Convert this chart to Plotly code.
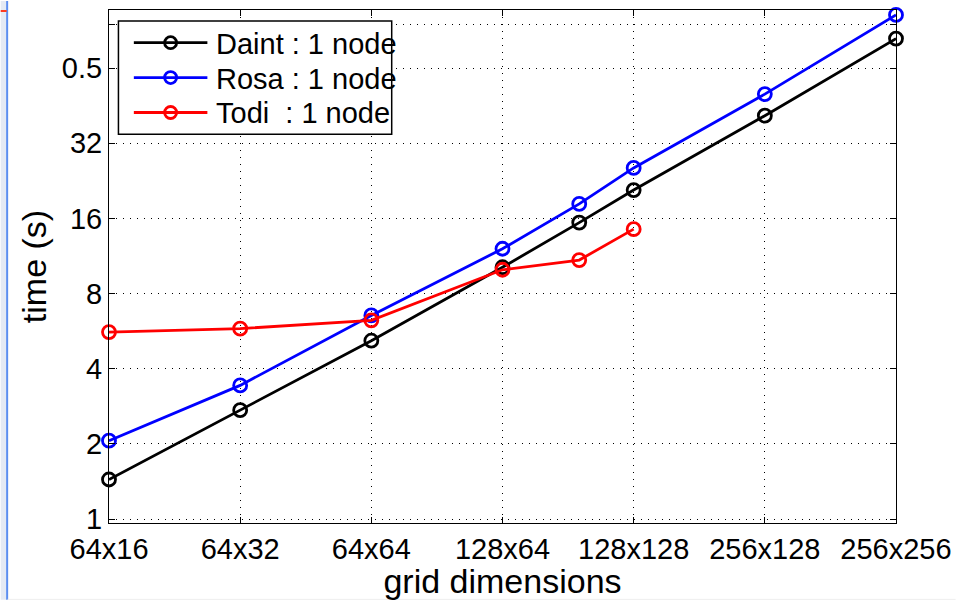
import math
import plotly.graph_objects as go

# grid sizes (nx, ny) and run times in seconds
grids = [(64, 16), (64, 32), (64, 64), (128, 64), (128, 96), (128, 128), (256, 128), (256, 256)]
daint_time = [1.44, 2.73, 5.18, 10.2, 15.4, 20.8, 41.3, 84.1]
rosa_time = [2.06, 3.43, 6.54, 12.1, 18.3, 25.5, 50.4, 104.6]
todi_time = [5.61, 5.79, 6.25, 9.97, 10.9, 14.5]

tick_grids = [(64, 16), (64, 32), (64, 64), (128, 64), (128, 128), (256, 128), (256, 256)]
y_tickvals = [1, 2, 4, 8, 16, 32, 64, 96]
y_ticktext = ["1", "2", "4", "8", "16", "32", "0.5", ""]

series_names = ["Daint : 1 node", "Rosa : 1 node", "Todi  : 1 node"]
series_values = [daint_time, rosa_time, todi_time]
series_colors = ["#000000", "#0000ff", "#ff0000"]

LW = 2.8

def cells(g):
    return math.log2(g[0] * g[1])

x_all = [cells(g) for g in grids]

fig = go.Figure()
for name, vals, color in zip(series_names, series_values, series_colors):
    fig.add_trace(go.Scatter(
        x=x_all[:len(vals)], y=vals, name=name, mode="lines+markers",
        line=dict(color=color, width=LW),
        marker=dict(symbol="circle-open", size=13, color=color,
                    line=dict(width=LW, color=color)),
        cliponaxis=False, showlegend=False,
    ))

W, H = 961, 600
L, R, T, B = 109, 60, 9, 77
pw, ph = W - L - R, H - T - B

def px_x(x):
    return (x - L) / pw

def px_y(y):
    return (H - B - y) / ph

axis_common = dict(
    showline=True, linecolor="black", linewidth=1, mirror="ticks",
    ticks="inside", ticklen=6, tickcolor="black", tickwidth=1,
    showgrid=True, gridcolor="black", gridwidth=1.2, griddash="1px,6px",
    zeroline=False, tickfont=dict(size=29, color="black"),
)

# legend box drawn in pixel space at the upper left of the axes
shapes = [
    dict(type="rect", xref="paper", yref="paper", x0=px_x(0), x1=px_x(6),
         y0=px_y(600), y1=px_y(0), fillcolor="#e4eaf4", line=dict(width=0), layer="below"),
    dict(type="line", xref="paper", yref="paper", x0=px_x(6.5), x1=px_x(6.5),
         y0=px_y(600), y1=px_y(0), line=dict(color="#5b8ef0", width=2)),
    dict(type="line", xref="paper", yref="paper", x0=px_x(0), x1=px_x(6),
         y0=px_y(10), y1=px_y(10), line=dict(color="#ff3b1f", width=2)),
    dict(type="line", xref="paper", yref="paper", x0=px_x(7), x1=px_x(961),
         y0=px_y(599.5), y1=px_y(599.5), line=dict(color="#eeeeee", width=1)),
    dict(type="rect", xref="paper", yref="paper", x0=px_x(118.5), x1=px_x(393.5),
         y0=px_y(133.5), y1=px_y(20), fillcolor="white", line=dict(color="black", width=1.5)),
]
annotations = []
row_y = [41.7, 76.7, 111.7]
for name, color, ry in zip(series_names, series_colors, row_y):
    shapes.append(dict(type="line", xref="paper", yref="paper", x0=px_x(134), x1=px_x(208),
                       y0=px_y(ry), y1=px_y(ry), line=dict(color=color, width=LW)))
    shapes.append(dict(type="circle", xref="paper", yref="paper",
                       xsizemode="pixel", ysizemode="pixel",
                       xanchor=px_x(171), yanchor=px_y(ry), x0=-6, x1=6, y0=-6, y1=6,
                       line=dict(color=color, width=LW)))
    annotations.append(dict(xref="paper", yref="paper", x=px_x(215), y=px_y(ry + 1),
                            xanchor="left", yanchor="middle", showarrow=False,
                            text=name, font=dict(size=29, color="black")))

fig.update_layout(
    width=W, height=H, autosize=False,
    margin=dict(l=L, r=R, t=T, b=B),
    paper_bgcolor="white", plot_bgcolor="white",
    font=dict(family="Liberation Sans, Arial, Helvetica, sans-serif", size=29, color="black"),
    xaxis=dict(
        range=[cells(tick_grids[0]), cells(tick_grids[-1])],
        tickvals=[cells(g) for g in tick_grids],
        ticktext=[f"{a}x{b}" for a, b in tick_grids],
        title=dict(text="grid dimensions", font=dict(size=34), standoff=2),
        **axis_common,
    ),
    yaxis=dict(
        type="log", range=[-0.016, 2.0394],
        tickvals=y_tickvals, ticktext=y_ticktext,
        title=dict(text="time (s)", font=dict(size=34), standoff=4),
        **axis_common,
    ),
    showlegend=False,
    shapes=shapes,
    annotations=annotations,
)

fig.write_html("out.html")
